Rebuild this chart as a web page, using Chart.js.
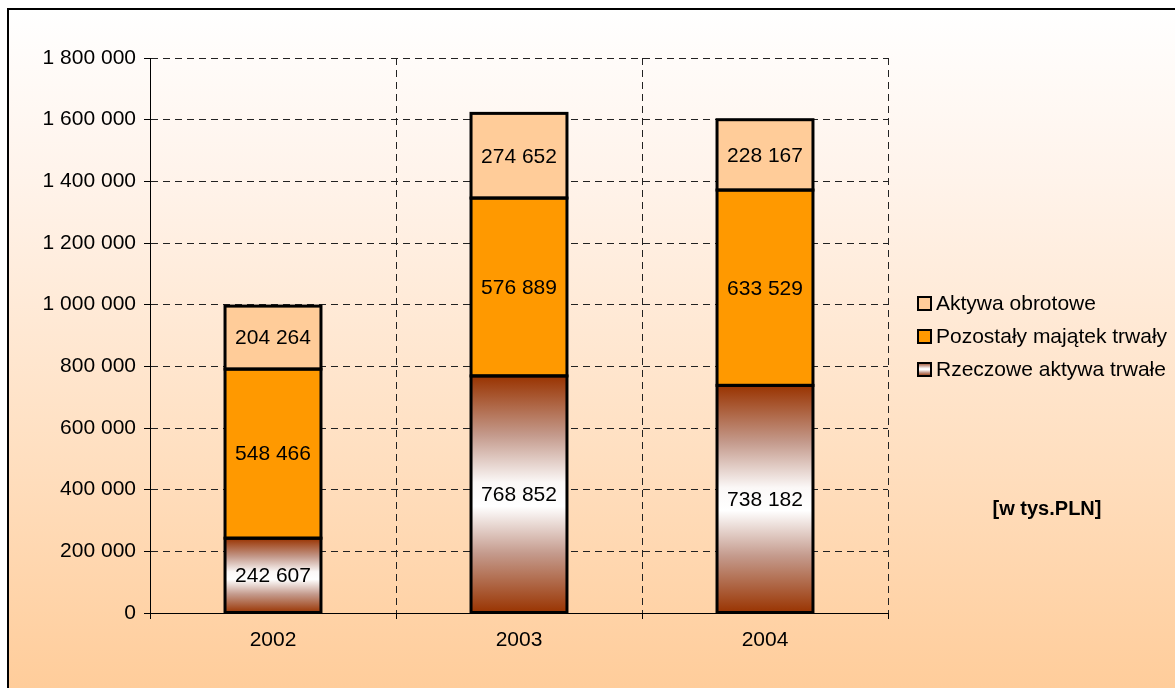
<!DOCTYPE html>
<html>
<head>
<meta charset="utf-8">
<script src="https://cdn.jsdelivr.net/npm/chart.js@4"></script>
<style>
  html, body { margin:0; padding:0; width:1175px; height:688px; overflow:hidden; background:#fff; }
  #frame {
    position:absolute; left:7px; top:8px; width:1175px; height:688px;
    border-left:2px solid #000; border-top:2px solid #000;
    background:linear-gradient(to bottom, #ffffff 0%, #fff3ea 25%, #ffdfc0 65%, #ffcc99 100%);
  }
  #wrap { position:absolute; left:0; top:0; width:1175px; height:688px; }
</style>
</head>
<body>
<div id="frame"></div>
<div id="wrap"><canvas id="c" width="1175" height="688"></canvas></div>
<script>
// dane [w tys.PLN]
const lata       = ['2002', '2003', '2004'];
const rzeczowe   = [242607, 768852, 738182];
const pozostaly  = [548466, 576889, 633529];
const obrotowe   = [204264, 274652, 228167];
const yTicks     = [0, 200000, 400000, 600000, 800000, 1000000, 1200000, 1400000, 1600000, 1800000];

const fmt = v => String(v).replace(/\B(?=(\d{3})+(?!\d))/g, ' ');
const FONT = 'Arial, "Liberation Sans", sans-serif';

// gradient brąz - biały - brąz dla rzeczowych aktywów
function brownGrad(ctx, top, bottom) {
  const g = ctx.createLinearGradient(0, top, 0, bottom);
  g.addColorStop(0, '#993300');
  g.addColorStop(0.25, '#c49a8c');
  g.addColorStop(0.45, '#fbf8f7');
  g.addColorStop(0.55, '#ffffff');
  g.addColorStop(0.75, '#c49a8c');
  g.addColorStop(1, '#993300');
  return g;
}

// obrys segmentów + etykiety wartości
const labelsPlugin = {
  id: 'segLabels',
  afterDatasetsDraw(chart) {
    const ctx = chart.ctx;
    ctx.save();
    ctx.lineWidth = 3;
    ctx.strokeStyle = '#000';
    chart.data.datasets.forEach((ds, i) => {
      chart.getDatasetMeta(i).data.forEach(bar => {
        const w = bar.width;
        ctx.strokeRect(bar.x - w / 2, bar.y, w, bar.base - bar.y);
      });
    });
    ctx.font = '21px ' + FONT;
    ctx.fillStyle = '#000';
    ctx.textAlign = 'center';
    ctx.textBaseline = 'middle';
    chart.data.datasets.forEach((ds, i) => {
      chart.getDatasetMeta(i).data.forEach((bar, j) => {
        const mid = (bar.y + bar.base) / 2;
        ctx.fillText(fmt(ds.data[j]), bar.x, mid + 1);
      });
    });
    ctx.restore();
  }
};

const legendPlugin = {
  id: 'sideLegend',
  afterDraw(chart) {
    const ctx = chart.ctx;
    const items = chart.data.datasets.slice().reverse();
    const rows = [303, 336, 369];
    ctx.save();
    ctx.font = '21px ' + FONT;
    ctx.textBaseline = 'middle';
    items.forEach((ds, i) => {
      const y = rows[i];
      const x = 918;
      if (ds.label === 'Rzeczowe aktywa trwałe') ctx.fillStyle = brownGrad(ctx, y - 7, y + 7);
      else ctx.fillStyle = ds.legendColor;
      ctx.fillRect(x, y - 6, 13, 13);
      ctx.lineWidth = 2;
      ctx.strokeStyle = '#000';
      ctx.strokeRect(x, y - 6, 13, 13);
      ctx.fillStyle = '#000';
      ctx.fillText(ds.label, 936, y + 1);
    });
    ctx.font = 'bold 20px ' + FONT;
    ctx.textAlign = 'center';
    ctx.fillText('[w tys.PLN]', 1047, 509);
    ctx.restore();
  }
};

new Chart(document.getElementById('c'), {
  type: 'bar',
  data: {
    labels: lata,
    datasets: [
      {
        label: 'Rzeczowe aktywa trwałe',
        data: rzeczowe,
        legendColor: '#ffffff',
        backgroundColor: c => {
          const ch = c.chart;
          if (!ch.chartArea || c.dataIndex === undefined) return '#ffffff';
          const y = ch.scales.y;
          const top = y.getPixelForValue(rzeczowe[c.dataIndex]);
          const bot = y.getPixelForValue(0);
          return brownGrad(ch.ctx, top, bot);
        }
      },
      { label: 'Pozostały majątek trwały', data: pozostaly, backgroundColor: '#ff9900', legendColor: '#ff9900' },
      { label: 'Aktywa obrotowe', data: obrotowe, backgroundColor: '#ffcc99', legendColor: '#ffcc99' }
    ]
  },
  options: {
    responsive: false,
    animation: false,
    devicePixelRatio: 1,
    layout: { padding: { left: 0, top: 58, right: 287, bottom: 0 } },
    datasets: {
      bar: { categoryPercentage: 1, barPercentage: 0.39, borderWidth: 0, inflateAmount: 0 }
    },
    plugins: { legend: { display: false }, tooltip: { enabled: false } },
    scales: {
      x: {
        stacked: true,
        afterFit: s => { s.height = 75; },
        grid: { color: '#222', lineWidth: 1, offset: true, tickLength: 6, tickColor: '#000', tickBorderDash: [] },
        border: { color: '#000', width: 1, dash: [7, 5] },
        ticks: { color: '#000', font: { size: 21, family: FONT }, padding: 9 }
      },
      y: {
        stacked: true,
        min: 0,
        max: 1800000,
        afterFit: s => { s.width = 150; },
        afterBuildTicks: s => { s.ticks = yTicks.map(v => ({ value: v })); },
        grid: { color: '#222', lineWidth: 1, tickLength: 6, tickColor: '#000', tickBorderDash: [] },
        border: { color: '#000', width: 1, dash: [7, 5] },
        ticks: { color: '#000', font: { size: 21, family: FONT }, padding: 8, callback: v => fmt(v) }
      }
    }
  },
  plugins: [labelsPlugin, legendPlugin]
});
</script>
</body>
</html>
